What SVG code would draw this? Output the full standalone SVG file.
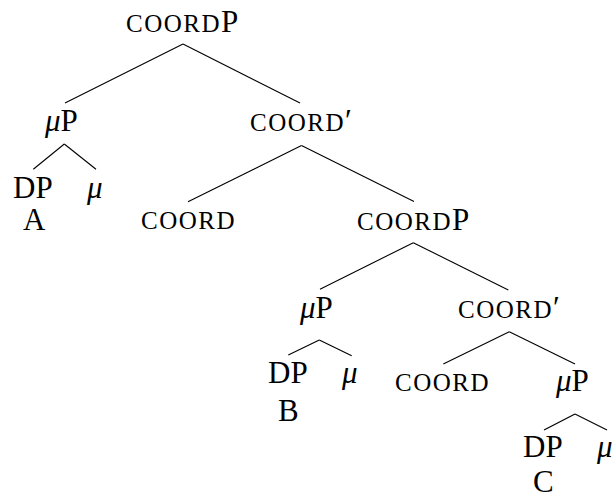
<svg xmlns="http://www.w3.org/2000/svg" width="613" height="498" viewBox="0 0 613 498" font-family="Liberation Serif, serif">
<style>
text{font-size:31px;fill:#000}
.sc{font-size:25px;letter-spacing:1.5px}
.it{font-style:italic}
#connectors line{stroke:#000;stroke-width:1.1}
</style>
<rect width="613" height="498" fill="#fff"/>
<g id="connectors">
<line x1="183" y1="44" x2="65" y2="103"/>
<line x1="183" y1="44" x2="300" y2="103"/>
<line x1="64.3" y1="144" x2="33.3" y2="169.3"/>
<line x1="64.3" y1="144" x2="96" y2="169.3"/>
<line x1="301.5" y1="145.5" x2="188" y2="201.7"/>
<line x1="301.5" y1="145.5" x2="414" y2="201.5"/>
<line x1="413.3" y1="242.7" x2="320" y2="289.3"/>
<line x1="413.3" y1="242.7" x2="508.3" y2="290"/>
<line x1="319.3" y1="340" x2="288.3" y2="355"/>
<line x1="319.3" y1="340" x2="351.7" y2="355.7"/>
<line x1="509.3" y1="331.7" x2="443.3" y2="364"/>
<line x1="509.3" y1="331.7" x2="575" y2="364"/>
<line x1="575" y1="414" x2="544" y2="430"/>
<line x1="575" y1="414" x2="607" y2="430"/>
</g>
<g id="coordP1"><text x="126" y="32"><tspan class="sc">COORD</tspan>P</text></g>
<g id="muP1"><text x="45" y="131"><tspan class="it">μ</tspan>P</text></g>
<g id="coordbar1"><text x="250" y="131"><tspan class="sc">COORD</tspan>′</text></g>
<g id="DP_A"><text x="13" y="198">DP</text><text x="23" y="230">A</text></g>
<g id="mu1"><text class="it" x="87" y="198">μ</text></g>
<g id="coord1"><text class="sc" x="141" y="229">COORD</text></g>
<g id="coordP2"><text x="357" y="230"><tspan class="sc">COORD</tspan>P</text></g>
<g id="muP2"><text x="300" y="318"><tspan class="it">μ</tspan>P</text></g>
<g id="coordbar2"><text x="458" y="318"><tspan class="sc">COORD</tspan>′</text></g>
<g id="DP_B"><text x="268" y="383">DP</text><text x="278" y="421">B</text></g>
<g id="mu2"><text class="it" x="342" y="383">μ</text></g>
<g id="coord2"><text class="sc" x="395" y="391">COORD</text></g>
<g id="muP3"><text x="556" y="391"><tspan class="it">μ</tspan>P</text></g>
<g id="DP_C"><text x="523" y="457">DP</text><text x="533" y="492">C</text></g>
<g id="mu3"><text class="it" x="597" y="457">μ</text></g>
</svg>
